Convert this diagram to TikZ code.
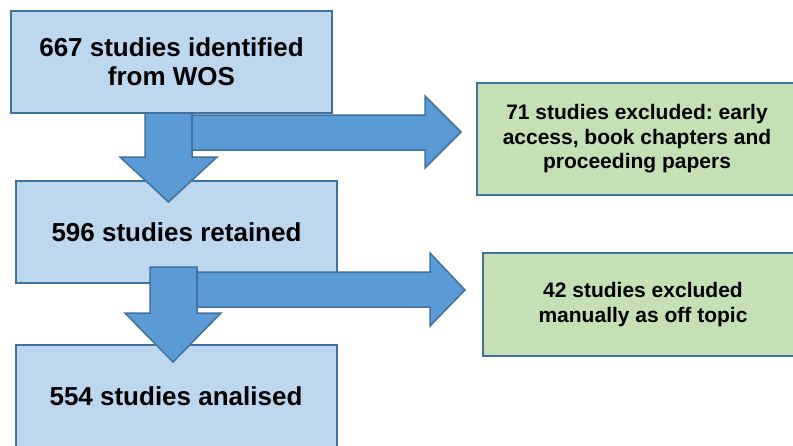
\documentclass[tikz,border=0pt]{standalone}
\usepackage{fontspec}
\setmainfont{Liberation Sans}
\frenchspacing
\definecolor{bluefill}{HTML}{BDD7EE}
\definecolor{arrowfill}{HTML}{5B9BD5}
\definecolor{greenfill}{HTML}{C5E0B4}
\definecolor{edgeblue}{HTML}{41719C}
\tikzset{
  bluebox/.style={draw=edgeblue, line width=2pt, fill=bluefill, minimum width=321pt, minimum height=102pt, align=center, inner sep=0pt, font=\bfseries\fontsize{26}{29}\selectfont},
  greenbox/.style={draw=edgeblue, line width=2pt, fill=greenfill, minimum width=321pt, align=center, inner sep=0pt, font=\bfseries\fontsize{21}{24.6}\selectfont},
  blockarrow/.style={draw=edgeblue, line width=1.5pt, fill=arrowfill, line join=miter}
}
\begin{document}
\begin{tikzpicture}[x=1pt,y=-1pt]
\useasboundingbox (0,0) rectangle (793,445);
\clip (0,0) rectangle (793,445);
\fill[white] (0,0) rectangle (793,445);
\node[bluebox] (b1) at (171.5,62) {667 studies identified\\from WOS};
\node[bluebox] (b2) at (176.5,232) {596 studies retained};
\node[bluebox, minimum height=102pt] (b3) at (176,396) {554 studies analised};
\node[greenbox, minimum height=112pt] (g1) at (637,139) {71 studies excluded: early\\access, book chapters and\\proceeding papers};
\node[greenbox, minimum height=103pt] (g2) at (643,304.5) {42 studies excluded\\manually as off topic};
% arrows from b1
\draw[blockarrow] (145,113) -- (192,113) -- (192,157) -- (217,157) -- (168.5,202) -- (120,157) -- (145,157) -- cycle;
\draw[blockarrow] (192,115) -- (425,115) -- (425,96) -- (461,132) -- (425,168) -- (425,150) -- (192,150) -- cycle;
% arrows from b2
\draw[blockarrow] (150,267) -- (197,267) -- (197,313) -- (221,313) -- (173,362) -- (125,313) -- (150,313) -- cycle;
\draw[blockarrow] (197,272) -- (430,272) -- (430,253) -- (465,290) -- (430,326) -- (430,307) -- (197,307) -- cycle;
\end{tikzpicture}
\end{document}
